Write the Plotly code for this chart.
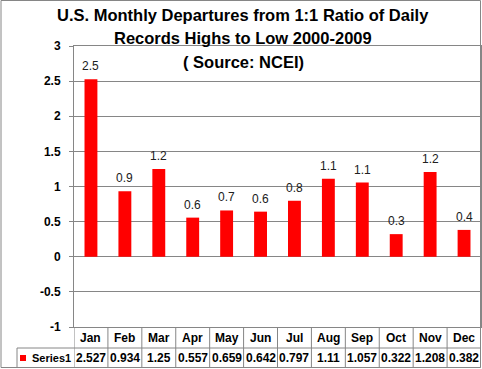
import plotly.graph_objects as go

months = ["Jan", "Feb", "Mar", "Apr", "May", "Jun", "Jul", "Aug", "Sep", "Oct", "Nov", "Dec"]
values = [2.527, 0.934, 1.25, 0.557, 0.659, 0.642, 0.797, 1.11, 1.057, 0.322, 1.208, 0.382]
value_text = ["2.527", "0.934", "1.25", "0.557", "0.659", "0.642", "0.797", "1.11", "1.057", "0.322", "1.208", "0.382"]
bar_labels = ["2.5", "0.9", "1.2", "0.6", "0.7", "0.6", "0.8", "1.1", "1.1", "0.3", "1.2", "0.4"]
series_name = "Series1"
title_lines = ["U.S. Monthly Departures from 1:1 Ratio of Daily",
               "Records Highs to Low 2000-2009",
               "( Source: NCEI)"]

W, H = 482, 369
ML, MR, MT, MB = 74, 1, 46, 42
PW, PH = W - ML - MR, H - MT - MB

def px(xp):
    return (xp - ML) / PW

def py(yp):
    return (H - MB - yp) / PH

GRID = "#868686"
FONT = "Liberation Sans"

fig = go.Figure()
fig.add_trace(go.Bar(x=list(range(12)), y=values, marker=dict(color="#FF0000", line=dict(width=0)),
                     width=0.38, name=series_name, showlegend=False, hoverinfo="skip"))

ann = []
for i, t in enumerate(title_lines):
    ann.append(dict(text="<b>%s</b>" % t, x=px(243), y=py([15, 38, 62][i]), xref="paper", yref="paper",
                    showarrow=False, xanchor="center", yanchor="middle",
                    font=dict(family=FONT, size=16.5, color="#000000")))
for i, (v, lab) in enumerate(zip(values, bar_labels)):
    ann.append(dict(text=lab, x=i, y=v, xref="x", yref="y", showarrow=False, yanchor="bottom",
                    yshift=4, font=dict(family=FONT, size=12, color="#202020")))
for i, m in enumerate(months):
    ann.append(dict(text="<b>%s</b>" % m, x=i, y=py(337.5), xref="x", yref="paper", showarrow=False,
                    yanchor="middle", font=dict(family=FONT, size=12, color="#000000")))
    ann.append(dict(text="<b>%s</b>" % value_text[i], x=i, y=py(358), xref="x", yref="paper",
                    showarrow=False, yanchor="middle", font=dict(family=FONT, size=12, color="#000000")))
ann.append(dict(text="<b>%s</b>" % series_name, x=px(72.5), y=py(358), xref="paper", yref="paper",
                showarrow=False, xanchor="right", yanchor="middle",
                font=dict(family=FONT, size=11, color="#000000")))

shapes = []
# legend key square
shapes.append(dict(type="rect", xref="paper", yref="paper", x0=px(20), x1=px(26), y0=py(361), y1=py(355),
                   fillcolor="#FF0000", line=dict(width=0)))
# table lines
for k in range(13):
    shapes.append(dict(type="line", xref="x", yref="paper", x0=k - 0.5, x1=k - 0.5, y0=py(368), y1=0,
                       line=dict(color=GRID, width=1)))
shapes.append(dict(type="line", xref="paper", yref="paper", x0=px(17), x1=1, y0=py(348), y1=py(348),
                   line=dict(color=GRID, width=1)))
shapes.append(dict(type="line", xref="paper", yref="paper", x0=px(17), x1=px(17), y0=py(368), y1=py(348),
                   line=dict(color=GRID, width=1)))
# outer chart border
shapes.append(dict(type="rect", xref="paper", yref="paper", x0=px(1), x1=px(480.5), y0=py(367.5), y1=py(0.5),
                   line=dict(color=GRID, width=1), fillcolor="rgba(0,0,0,0)"))

fig.update_layout(
    width=W, height=H, margin=dict(l=ML, r=MR, t=MT, b=MB),
    paper_bgcolor="white", plot_bgcolor="white",
    xaxis=dict(range=[-0.5, 11.5], showticklabels=False, showgrid=False, zeroline=False,
               showline=True, linecolor=GRID, mirror=True, ticks=""),
    yaxis=dict(range=[-1, 3], tickvals=[-1, -0.5, 0, 0.5, 1, 1.5, 2, 2.5, 3],
               ticktext=["<b>-1</b>", "<b>-0.5</b>", "<b>0</b>", "<b>0.5</b>", "<b>1</b>", "<b>1.5</b>",
                         "<b>2</b>", "<b>2.5</b>", "<b>3</b>"],
               showgrid=True, gridcolor=GRID, gridwidth=1, zeroline=True, zerolinecolor=GRID,
               zerolinewidth=1, showline=True, linecolor=GRID, mirror=True, ticks="outside",
               ticklen=4, tickcolor=GRID, ticklabelstandoff=6,
               tickfont=dict(family=FONT, size=12, color="#000000")),
    annotations=ann, shapes=shapes, bargap=0.6,
)
fig.write_html("out.html", config={"displayModeBar": False},
               post_script="document.body.style.margin='0';document.body.style.overflow='hidden';")
